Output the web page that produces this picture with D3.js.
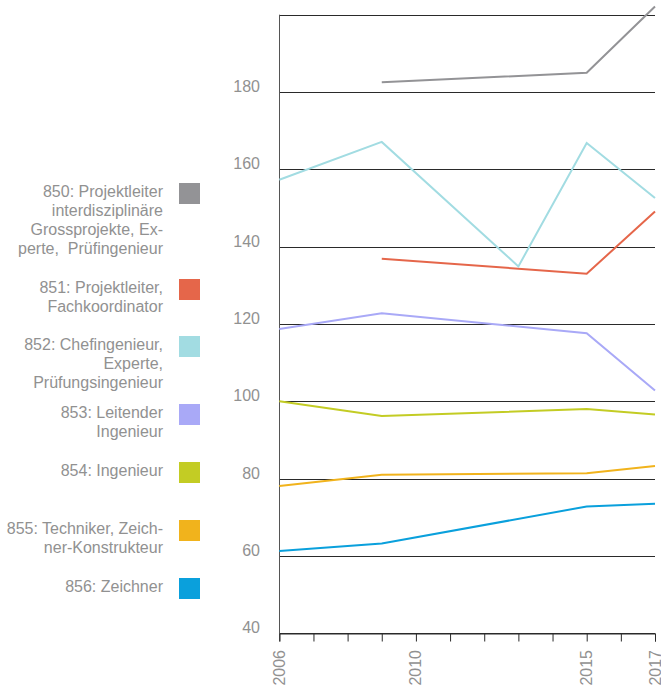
<!DOCTYPE html>
<html>
<head>
<meta charset="utf-8">
<script src="https://cdn.jsdelivr.net/npm/d3@7/dist/d3.min.js"></script>
<style>
  body { margin: 0; background: #fff; }
  text { font-family: "Liberation Sans", Arial, sans-serif; white-space: pre; }
</style>
</head>
<body>
<div id="screen"></div>
<script>
// years with a value; null where the series has no point
var years = [2006, 2009, 2013, 2015, 2017];
var tickYears = [2006, 2010, 2015, 2017];
var yTicks = [40, 60, 80, 100, 120, 140, 160, 180];

var codes = ["850", "851", "852", "853", "854", "855", "856"];
var labels = [
    ["850: Projektleiter", "interdisziplinäre", "Grossprojekte, Ex-", "perte,  Prüfingenieur"],
    ["851: Projektleiter,", "Fachkoordinator"],
    ["852: Chefingenieur,", "Experte,", "Prüfungsingenieur"],
    ["853: Leitender", "Ingenieur"],
    ["854: Ingenieur"],
    ["855: Techniker, Zeich-", "ner-Konstrukteur"],
    ["856: Zeichner"]
];
var colors = ["#939396", "#e5664a", "#a2dce2", "#a9a9f7", "#c3cc24", "#f1b31c", "#0aa0dc"];

var v850 = [null, 182.5, null, 185.0, 202.1];
var v851 = [null, 136.9, null, 133.0, 149.1];
var v852 = [157.3, 167.1, 134.9, 166.8, 152.6];
var v853 = [118.7, 122.8, null, 117.6, 102.8];
var v854 = [100.0, 96.2, null, 98.0, 96.6];
var v855 = [78.1, 81.0, null, 81.4, 83.3];
var v856 = [61.3, 63.2, null, 72.8, 73.5];
var values = [v850, v851, v852, v853, v854, v855, v856];

// legend square tops (layout only)
var legendTops = [183, 279, 336, 404, 462, 520, 578];

var width = 661, height = 692;
var svg = d3.select("#screen").append("svg").attr("width", width).attr("height", height);

var x = d3.scaleLinear().domain([2006, 2017]).range([279.3, 655]);
var y = d3.scaleLinear().domain([40, 200]).range([633.3, 14.7]);

var textColor = "#919191";

// grid lines
svg.append("g").selectAll("line")
    .data(yTicks.concat([200]))
    .enter().append("line")
    .attr("x1", x(2006)).attr("x2", x(2017))
    .attr("y1", d => Math.round(y(d)) + 0.5).attr("y2", d => Math.round(y(d)) + 0.5)
    .attr("stroke", "#2a2a2a").attr("stroke-width", 1);

// y labels
svg.append("g").selectAll("text")
    .data(yTicks)
    .enter().append("text")
    .attr("x", 260).attr("y", d => y(d))
    .attr("text-anchor", "end")
    .attr("font-size", "16px")
    .attr("fill", textColor)
    .text(d => d);

// vertical axis line
svg.append("line")
    .attr("x1", Math.round(x(2006)) + 0.5).attr("x2", Math.round(x(2006)) + 0.5)
    .attr("y1", y(200)).attr("y2", y(40))
    .attr("stroke", "#555").attr("stroke-width", 1);

// x axis
var xAxis = d3.axisBottom(x)
    .tickValues(d3.range(2006, 2018))
    .tickSize(8)
    .tickFormat("");
var gx = svg.append("g")
    .attr("transform", "translate(0," + (Math.round(y(40)) + 0.5) + ")")
    .call(xAxis);
gx.select(".domain").attr("stroke", "#2a2a2a");
gx.selectAll(".tick line").attr("stroke", "#2a2a2a");

svg.append("g").selectAll("text")
    .data(tickYears)
    .enter().append("text")
    .attr("transform", d => "translate(" + (x(d) + 5.5) + ",650) rotate(-90)")
    .attr("text-anchor", "end")
    .attr("font-size", "16px")
    .attr("fill", textColor)
    .text(d => d);

// lines
var line = d3.line()
    .x(d => x(d.year))
    .y(d => y(d.value));

svg.append("g").selectAll("path")
    .data(values.map((vals, i) => ({
        color: colors[i],
        points: years.map((yr, j) => ({year: yr, value: vals[j]})).filter(p => p.value !== null)
    })))
    .enter().append("path")
    .attr("d", d => line(d.points))
    .attr("fill", "none")
    .attr("stroke", d => d.color)
    .attr("stroke-width", 2);

// legend
var legend = svg.append("g").selectAll("g")
    .data(codes)
    .enter().append("g")
    .attr("transform", (d, i) => "translate(0," + legendTops[i] + ")");

legend.append("rect")
    .attr("x", 179).attr("y", 0)
    .attr("width", 21).attr("height", 21)
    .attr("fill", (d, i) => colors[i]);

legend.append("text")
    .attr("text-anchor", "end")
    .attr("font-size", "16px")
    .attr("fill", textColor)
    .each(function(d, i) {
        d3.select(this).selectAll("tspan")
            .data(labels[i])
            .enter().append("tspan")
            .attr("x", 163)
            .attr("y", (t, k) => 13.5 + k * 19.3)
            .text(t => t);
    });
</script>
</body>
</html>
